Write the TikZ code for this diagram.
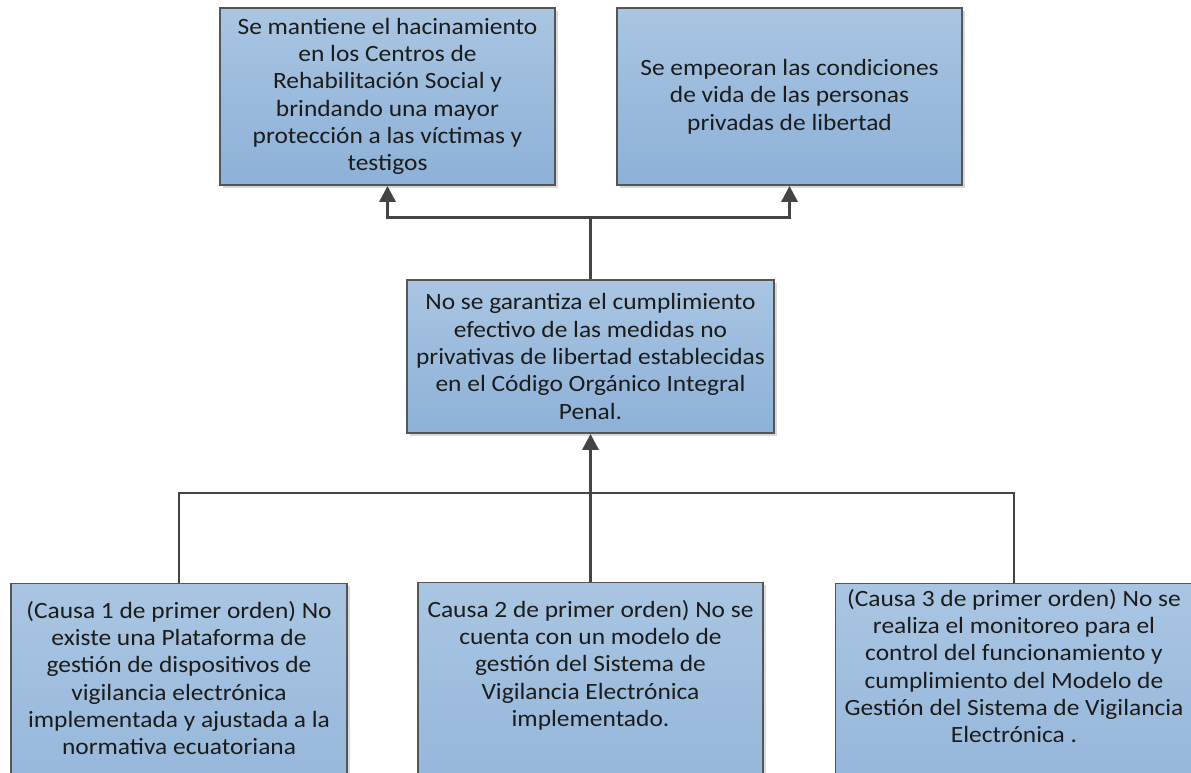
\documentclass[tikz,border=0pt]{standalone}
\usepackage{fontspec}
\setmainfont{Carlito}[FakeStretch=1.09]
\usepackage{xcolor}
\usepackage{tikz}
\usetikzlibrary{positioning,calc,arrows.meta,shadows}
\definecolor{boxtop}{HTML}{A9C5E2}
\definecolor{boxbot}{HTML}{8DB1D7}
\definecolor{boxline}{HTML}{555555}
\definecolor{linegray}{HTML}{444444}
\definecolor{txtgray}{HTML}{1C1C1C}

\begin{document}
\begin{tikzpicture}[x=0.75pt,y=-0.75pt,
    box/.style={draw=boxline, line width=1.1pt, top color=boxtop, bottom color=boxbot,
        text=txtgray, align=center, font=\fontsize{17.5}{20.5}\selectfont,
        drop shadow={shadow xshift=2pt,shadow yshift=-2pt,opacity=0.3}},
    causebox/.style={box, anchor=north, text depth=90pt},
    conn/.style={draw=linegray, line width=2.4pt, -{Triangle[length=12pt,width=12pt]}},
    branch/.style={draw=linegray, line width=1.5pt}]
    \clip (0,0) rectangle (1191,772);

    % effects
    \node[box, minimum width=251pt, minimum height=133pt] (eff1) at (387.5,96.5)
        {Se mantiene el hacinamiento\\ en los Centros de\\ Rehabilitación Social y\\ brindando una mayor\\ protección a las víctimas y\\ testigos};
    \node[box, minimum width=259pt, minimum height=133pt] (eff2) at (789.5,96.5)
        {Se empeoran las condiciones\\ de vida de las personas\\ privadas de libertad};

    % central problem
    \node[box, minimum width=275pt, minimum height=115pt] (prob) at (590.5,356.5)
        {No se garantiza el cumplimiento\\ efectivo de las medidas no\\ privativas de libertad establecidas\\ en el Código Orgánico Integral\\ Penal.};

    % causes
    \node[causebox, minimum width=252pt, inner ysep=13pt] (c1) at (179,583)
        {(Causa 1 de primer orden) No\\ existe una Plataforma de\\ gestión de dispositivos de\\ vigilancia electrónica\\ implementada y ajustada a la\\ normativa ecuatoriana};
    \node[causebox, minimum width=259pt, inner ysep=13pt] (c2) at (590.5,582)
        {Causa 2 de primer orden) No se\\ cuenta con un modelo de\\ gestión del Sistema de\\ Vigilancia Electrónica\\ implementado.};
    \node[causebox, minimum width=268pt, inner ysep=4pt] (c3) at (1014,583)
        {(Causa 3 de primer orden) No se\\ realiza el monitoreo para el\\ control del funcionamiento y\\ cumplimiento del Modelo de\\ Gestión del Sistema de Vigilancia\\ Electrónica .};

    % connectors
    \draw[conn] (prob.north) -- ++(0,-62) coordinate (split) -| (eff1.south);
    \draw[conn] (split) -| (eff2.south);
    \draw[branch] (c1.north) -- ++(0,-90) -| (c3.north);
    \draw[conn] (c2.north) -- (prob.south);
\end{tikzpicture}
\end{document}
